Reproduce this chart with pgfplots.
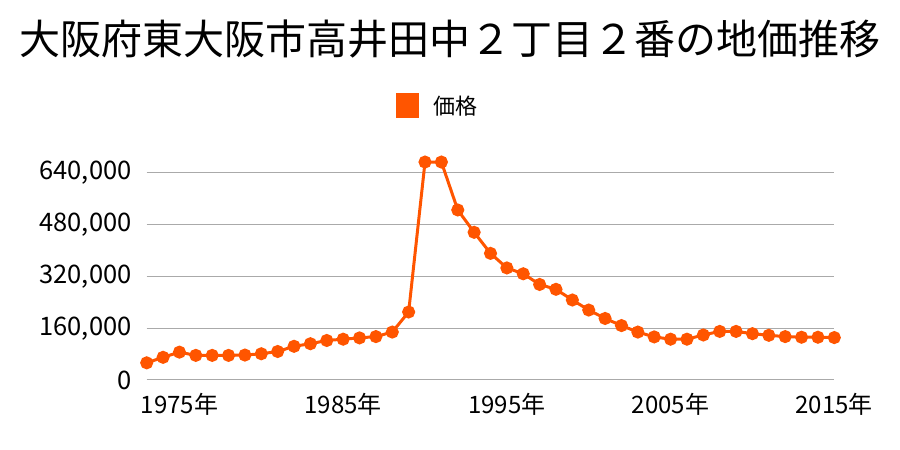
\documentclass[border=0pt]{standalone}
\usepackage{fontspec}
\setmainfont{Noto Sans CJK JP}
\usepackage{pgfplots}
\pgfplotsset{compat=1.18}
\definecolor{lineor}{RGB}{255,85,0}
\definecolor{gridgray}{RGB}{170,170,170}
\begin{document}
\begin{tikzpicture}[x=1bp,y=1bp]
\useasboundingbox (0,0) rectangle (900,450);
\begin{axis}[
  at={(146.7bp,70bp)}, anchor=south west,
  scale only axis,
  width=687.6bp, height=226.7bp,
  xmin=1973, xmax=2015, ymin=0, ymax=700000,
  clip=false,
  axis line style={draw=none},
  major tick length=0pt,
  ymajorgrids,
  grid style={gridgray, line width=1bp},
  ytick={0,160000,320000,480000,640000},
  xtick={1975,1985,1995,2005,2015},
  xticklabels={1975年,1985年,1995年,2005年,2015年},
  scaled y ticks=false,
  /pgf/number format/assume math mode=true,
  yticklabel={\pgfmathprintnumber[fixed,1000 sep={,}]{\tick}},
  ticklabel style={font=\fontsize{24bp}{28bp}\selectfont, text=black},
  yticklabel style={anchor=east, inner sep=0pt, xshift=-15bp, font=\fontsize{25.5bp}{28bp}\selectfont},
  xticklabel style={anchor=north, inner sep=0pt, yshift=-13bp},
  title={大阪府東大阪市高井田中２丁目２番の地価推移},
  title style={at={(axis description cs:0.4411,1.4777)}, anchor=center, font=\fontsize{41bp}{45bp}\selectfont, inner sep=0pt},
  legend style={at={(axis description cs:0.4237,1.2087)}, anchor=center, draw=none, fill=none, font=\fontsize{22bp}{26bp}\selectfont, inner sep=0pt},
  legend image code/.code={\fill[lineor] (0bp,-11bp) rectangle (20bp,11bp); \path[draw=none,fill=none] (20bp,0bp) -- (34bp,0bp);},
]
\addplot[color=lineor, line width=3bp, mark=*, mark size=5bp, mark options={fill=lineor, draw=lineor}] coordinates {
(1973,53000) (1974,70000) (1975,86000) (1976,76000) (1977,76000) (1978,76000)
(1979,77000) (1980,81000) (1981,88000) (1982,104000) (1983,112000) (1984,122000)
(1985,126000) (1986,130000) (1987,134000) (1988,148000) (1989,210000) (1990,673000)
(1991,673000) (1992,525000) (1993,456000) (1994,391000) (1995,346000) (1996,328000)
(1997,295000) (1998,280000) (1999,247000) (2000,216000) (2001,190000) (2002,168000)
(2003,148000) (2004,133000) (2005,126000) (2006,126000) (2007,139000) (2008,150000)
(2009,150000) (2010,143000) (2011,138000) (2012,134000) (2013,132000) (2014,132000)
(2015,131000)
};
\addlegendentry{価格}
\end{axis}
\end{tikzpicture}
\end{document}
